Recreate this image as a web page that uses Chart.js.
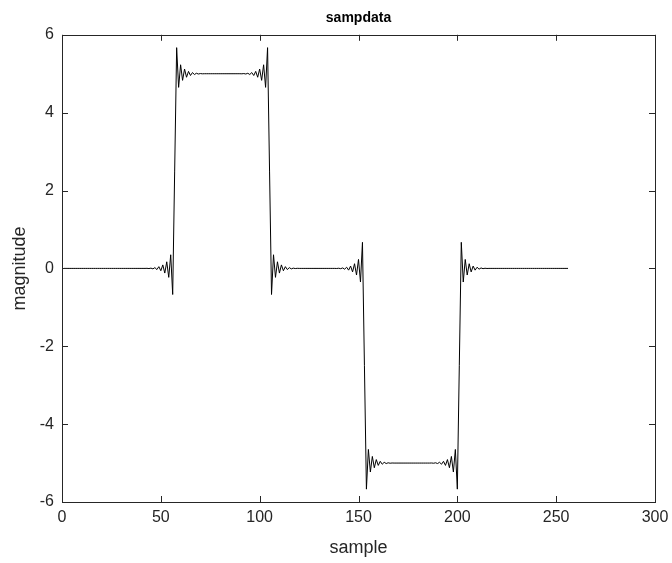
<!DOCTYPE html>
<html>
<head>
<meta charset="utf-8">
<title>sampdata</title>
<script src="https://cdn.jsdelivr.net/npm/chart.js@4.4.1/dist/chart.umd.min.js"></script>
<style>
  html, body { margin: 0; padding: 0; background: #fff; }
  #chart { display: block; }
</style>
</head>
<body>
<canvas id="chart" width="672" height="563"></canvas>
<script>
// valeurs (échantillons 1..256)
const magnitude = [
  0, 0, 0, 0, 0, 0, 0, 0, 0, 0, 0, 0, 0, 0, 0, 0,
  0, 0, 0, 0, 0, 0, 0, 0, 0, 0, 0, 0, 0, 0, 0, 0,
  0, 0, 0, 0, 0, 0, 0, 0, 0, 0, 0.002, -0.004, 0.007, -0.012, 0.02, -0.03,
  0.045, -0.06, 0.09, -0.12, 0.17, -0.23, 0.35, -0.67, 2.5, 5.67, 4.65, 5.23, 4.83, 5.12, 4.91, 5.06,
  4.955, 5.03, 4.98, 5.012, 4.993, 5.004, 4.998, 5, 5, 5, 5, 5, 5, 5, 5, 5,
  5, 5, 5, 5, 5, 5, 5, 5, 5, 5, 4.998, 5.004, 4.993, 5.012, 4.98, 5.03,
  4.955, 5.06, 4.91, 5.12, 4.83, 5.23, 4.65, 5.67, 2.5, -0.67, 0.35, -0.23, 0.17, -0.12, 0.09, -0.06,
  0.045, -0.03, 0.02, -0.012, 0.007, -0.004, 0.002, 0, 0, 0, 0, 0, 0, 0, 0, 0,
  0, 0, 0, 0, 0, 0, 0, 0, 0, 0, -0.002, 0.004, -0.007, 0.012, -0.02, 0.03,
  -0.045, 0.06, -0.09, 0.12, -0.17, 0.23, -0.35, 0.67, -2.5, -5.67, -4.65, -5.23, -4.83, -5.12, -4.91, -5.06,
  -4.955, -5.03, -4.98, -5.012, -4.993, -5.004, -4.998, -5, -5, -5, -5, -5, -5, -5, -5, -5,
  -5, -5, -5, -5, -5, -5, -5, -5, -5, -5, -4.998, -5.004, -4.993, -5.012, -4.98, -5.03,
  -4.955, -5.06, -4.91, -5.12, -4.83, -5.23, -4.65, -5.67, -2.5, 0.67, -0.35, 0.23, -0.17, 0.12, -0.09, 0.06,
  -0.045, 0.03, -0.02, 0.012, -0.007, 0.004, -0.002, 0, 0, 0, 0, 0, 0, 0, 0, 0,
  0, 0, 0, 0, 0, 0, 0, 0, 0, 0, 0, 0, 0, 0, 0, 0,
  0, 0, 0, 0, 0, 0, 0, 0, 0, 0, 0, 0, 0, 0, 0, 0
];

// graduations des axes
const xTicks = [0, 50, 100, 150, 200, 250, 300];
const yTicks = [-6, -4, -2, 0, 2, 4, 6];

const axisColor = '#262626';
const fontFamily = 'Liberation Sans, Arial, sans-serif';

// points (numéro d'échantillon, valeur)
const points = magnitude.map((v, i) => ({ x: i + 1, y: v }));

// cadre + petites graduations vers l'intérieur
const framePlugin = {
  id: 'frame',
  afterDraw(chart) {
    const ctx = chart.ctx;
    const a = chart.chartArea;
    const xs = chart.scales.x;
    const ys = chart.scales.y;
    const len = 6;
    ctx.save();
    ctx.strokeStyle = axisColor;
    ctx.lineWidth = 1;
    ctx.beginPath();
    xTicks.forEach(t => {
      const px = Math.round(xs.getPixelForValue(t)) + 0.5;
      ctx.moveTo(px, a.bottom); ctx.lineTo(px, a.bottom - len);
      ctx.moveTo(px, a.top); ctx.lineTo(px, a.top + len);
    });
    yTicks.forEach(t => {
      const py = Math.round(ys.getPixelForValue(t)) + 0.5;
      ctx.moveTo(a.left, py); ctx.lineTo(a.left + len, py);
      ctx.moveTo(a.right, py); ctx.lineTo(a.right - len, py);
    });
    ctx.stroke();
    ctx.strokeRect(Math.round(a.left) + 0.5, Math.round(a.top) + 0.5,
      Math.round(a.right - a.left), Math.round(a.bottom - a.top));
    ctx.restore();
  }
};

const ctx = document.getElementById('chart').getContext('2d');
const chart = new Chart(ctx, {
  type: 'line',
  data: {
    datasets: [{
      label: 'sampdata',
      data: points,
      borderColor: '#000000',
      borderWidth: 1,
      pointRadius: 0,
      fill: false,
      tension: 0
    }]
  },
  options: {
    responsive: false,
    animation: false,
    devicePixelRatio: 1,
    layout: { padding: { left: 0, right: 17, top: 0, bottom: 0 } },
    plugins: {
      legend: { display: false },
      tooltip: { enabled: false },
      title: {
        display: true,
        text: 'sampdata',
        fullSize: false,
        color: '#000000',
        font: { family: fontFamily, size: 14, weight: 'bold' },
        padding: { top: 10, bottom: 8 }
      }
    },
    scales: {
      x: {
        type: 'linear',
        min: 0,
        max: 300,
        afterBuildTicks: scale => { scale.ticks = xTicks.map(v => ({ value: v })); },
        afterFit: scale => {
          scale.height = 61;
          scale.paddingLeft = 0;
          scale.paddingRight = 0;
        },
        grid: { display: false, drawTicks: false },
        border: { display: false },
        ticks: {
          color: axisColor,
          padding: 6,
          maxRotation: 0,
          font: { family: fontFamily, size: 16 }
        },
        title: {
          display: true,
          text: 'sample',
          color: axisColor,
          padding: { top: 0, bottom: 4 },
          font: { family: fontFamily, size: 18 }
        }
      },
      y: {
        type: 'linear',
        min: -6,
        max: 6,
        afterBuildTicks: scale => { scale.ticks = yTicks.map(v => ({ value: v })); },
        afterFit: scale => {
          scale.width = 62;
          scale.paddingTop = 0;
          scale.paddingBottom = 0;
        },
        grid: { display: false, drawTicks: false },
        border: { display: false },
        ticks: {
          color: axisColor,
          padding: 8,
          font: { family: fontFamily, size: 16 }
        },
        title: {
          display: true,
          text: 'magnitude',
          color: axisColor,
          padding: { top: 9, bottom: 0 },
          font: { family: fontFamily, size: 18 }
        }
      }
    }
  },
  plugins: [framePlugin]
});
</script>
</body>
</html>
